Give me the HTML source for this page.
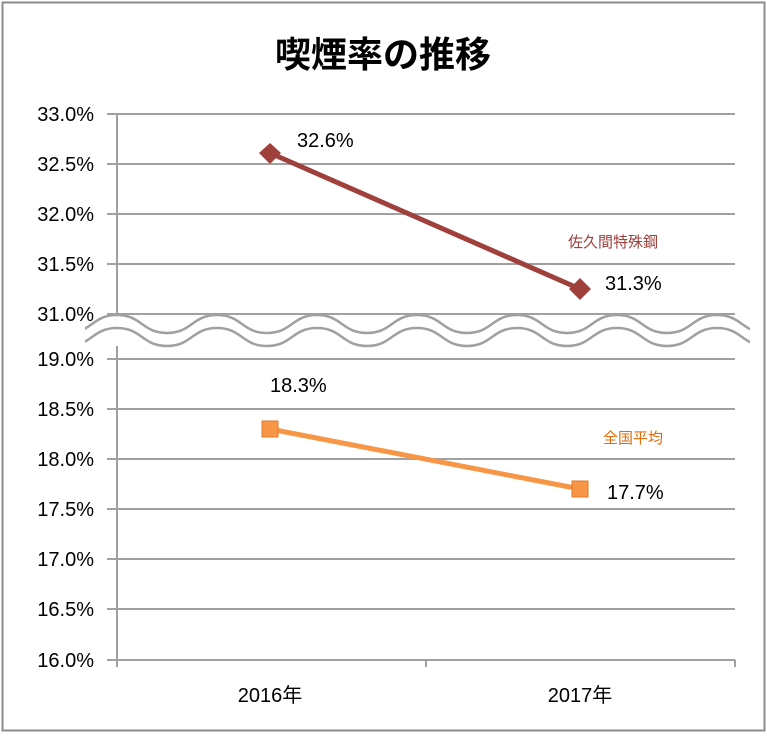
<!DOCTYPE html>
<html><head><meta charset="utf-8"><style>
body{margin:0;background:#fff}
svg text{font-family:"Liberation Sans","Noto Sans CJK JP",sans-serif}
</style></head><body>
<svg width="767" height="733" xmlns="http://www.w3.org/2000/svg">
<defs><clipPath id="c"><rect x="85" y="300" width="665" height="60"/></clipPath></defs>
<rect x="2.5" y="2.5" width="762" height="728" fill="#fff" stroke="#8c8c8c" stroke-width="2"/>
<text x="383" y="67" text-anchor="middle" font-size="36" font-weight="bold" fill="#000" style="font-family:'Noto Sans CJK JP',sans-serif">喫煙率の推移</text>
<g stroke="#a0a0a0" stroke-width="2">
<line x1="107" y1="114" x2="735" y2="114"/>
<line x1="107" y1="164" x2="735" y2="164"/>
<line x1="107" y1="214" x2="735" y2="214"/>
<line x1="107" y1="264" x2="735" y2="264"/>
<line x1="107" y1="314" x2="735" y2="314"/>
<line x1="107" y1="359" x2="735" y2="359"/>
<line x1="107" y1="409" x2="735" y2="409"/>
<line x1="107" y1="459" x2="735" y2="459"/>
<line x1="107" y1="509" x2="735" y2="509"/>
<line x1="107" y1="559" x2="735" y2="559"/>
<line x1="107" y1="609" x2="735" y2="609"/>
<line x1="107" y1="660" x2="735" y2="660"/>
<line x1="117" y1="114" x2="117" y2="667"/>
<line x1="426" y1="660" x2="426" y2="667"/>
<line x1="735" y1="660" x2="735" y2="667"/>
</g>
<g clip-path="url(#c)">
<rect x="85" y="316" width="665" height="30" fill="#fff"/>
<g fill="none" stroke="#a0a0a0" stroke-width="2.5">
<path d="M67 333 C92 333 92 315 117 315 S142 333 167 333 S192 315 217 315 S242 333 267 333 S292 315 317 315 S342 333 367 333 S392 315 417 315 S442 333 467 333 S492 315 517 315 S542 333 567 333 S592 315 617 315 S642 333 667 333 S692 315 717 315 S742 333 767 333"/>
<path d="M67 346 C92 346 92 328 117 328 S142 346 167 346 S192 328 217 328 S242 346 267 346 S292 328 317 328 S342 346 367 346 S392 328 417 328 S442 346 467 346 S492 328 517 328 S542 346 567 346 S592 328 617 328 S642 346 667 346 S692 328 717 328 S742 346 767 346"/>
</g>
</g>
<g font-size="20" fill="#000" text-anchor="end">
<text x="94" y="121">33.0%</text><text x="94" y="171">32.5%</text><text x="94" y="221">32.0%</text>
<text x="94" y="271">31.5%</text><text x="94" y="321">31.0%</text><text x="94" y="366">19.0%</text>
<text x="94" y="416">18.5%</text><text x="94" y="466">18.0%</text><text x="94" y="516">17.5%</text>
<text x="94" y="566">17.0%</text><text x="94" y="616">16.5%</text><text x="94" y="667">16.0%</text>
</g>
<g font-size="20" fill="#000" text-anchor="middle">
<text x="270" y="702">2016年</text><text x="580" y="702">2017年</text>
</g>
<line x1="270" y1="153" x2="580" y2="289" stroke="#a0403c" stroke-width="5"/>
<path d="M270 143 L281 153 L270 164 L259 153Z" fill="#a0403c"/>
<path d="M580 278 L591 289 L580 300 L569 289Z" fill="#a0403c"/>
<line x1="270" y1="429" x2="580" y2="489" stroke="#f79646" stroke-width="5"/>
<rect x="262" y="421" width="16" height="16" fill="#f79646" stroke="#e0782a" stroke-width="1"/>
<rect x="572" y="481" width="16" height="16" fill="#f79646" stroke="#e0782a" stroke-width="1"/>
<g font-size="20" fill="#000">
<text x="297" y="147">32.6%</text><text x="605" y="290">31.3%</text>
<text x="270" y="392">18.3%</text><text x="607" y="499">17.7%</text>
</g>
<text x="568" y="247" font-size="15" fill="#a0403c" style="font-family:'Noto Sans CJK JP',sans-serif">佐久間特殊鋼</text>
<text x="603" y="443" font-size="15" fill="#e46c0a" style="font-family:'Noto Sans CJK JP',sans-serif">全国平均</text>
</svg>
</body></html>
